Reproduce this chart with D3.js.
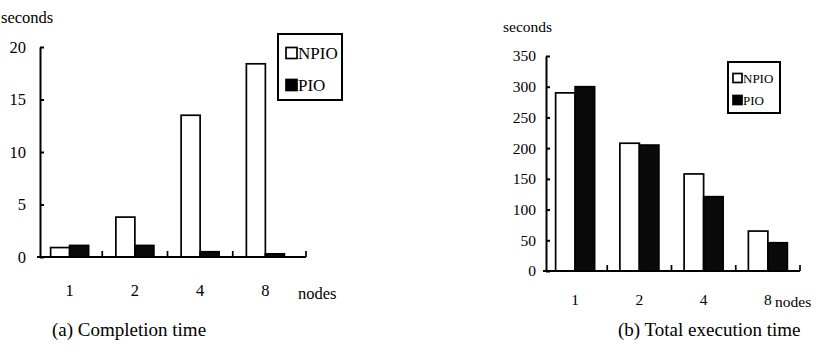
<!DOCTYPE html>
<html>
<head>
<meta charset="utf-8">
<script src="https://cdn.jsdelivr.net/npm/d3@7/dist/d3.min.js"></script>
<style>
  html, body { margin: 0; padding: 0; background: #fff; }
  svg { display: block; }
</style>
</head>
<body>
<svg id="chart" width="827" height="354" style="font-family: 'Times New Roman', 'Liberation Serif', 'DejaVu Serif', serif;"></svg>
<script>
// ---------- data ----------
const categories = ["1", "2", "4", "8"];
const seriesNames = ["NPIO", "PIO"];

const completionNPIO = [0.9, 3.8, 13.5, 18.4];
const completionPIO  = [1.1, 1.1, 0.5, 0.3];
const completionTicks = [0, 5, 10, 15, 20];

const totalNPIO = [290, 208, 158, 65];
const totalPIO  = [300, 205, 121, 46];
const totalTicks = [0, 50, 100, 150, 200, 250, 300, 350];

const yLabel = "seconds";
const xLabel = "nodes";
const captionA = "(a)  Completion time";
const captionB = "(b) Total execution time";

// ---------- drawing ----------
const FONT = "'Times New Roman', 'Liberation Serif', 'DejaVu Serif', serif";
const svg = d3.select("#chart");

function txt(sel, size) {
  return sel.attr("font-family", FONT).style("font-family", FONT)
    .style("font-size", size + "px").attr("fill", "#000");
}

function drawChart(opt) {
  const g = svg.append("g");
  const y = d3.scaleLinear()
    .domain([0, d3.max(opt.ticks)])
    .range([opt.y0, opt.yTop]);
  const x = d3.scaleBand().domain(categories).range([opt.xStart, opt.xEnd]);
  const x1 = d3.scaleBand().domain(seriesNames).range([0, opt.pairW]);
  const off = (x.step() - opt.pairW) / 2;

  const rows = categories.map((c, i) => ({ c, vals: [opt.npio[i], opt.pio[i]] }));

  // bars
  rows.forEach(r => {
    seriesNames.forEach((s, j) => {
      g.append("rect")
        .attr("x", x(r.c) + off + x1(s))
        .attr("y", y(r.vals[j]))
        .attr("width", x1.bandwidth())
        .attr("height", y(0) - y(r.vals[j]))
        .attr("fill", j === 0 ? "#fff" : "#0a0a0a")
        .attr("stroke", "#000")
        .attr("stroke-width", 1.7);
    });
  });

  // y axis
  const ay = g.append("g")
    .attr("transform", `translate(${opt.axisX},0)`)
    .call(d3.axisLeft(y).tickValues(opt.ticks).tickSize(-4).tickSizeOuter(0).tickPadding(opt.labelPad));
  ay.attr("font-family", FONT);
  ay.select(".domain").attr("stroke", "#000").attr("stroke-width", 2);
  ay.selectAll(".tick line").attr("stroke", "#000").attr("stroke-width", 2);
  txt(ay.selectAll(".tick text"), opt.tickFont);

  // baseline with upward separator ticks
  g.append("line")
    .attr("x1", opt.axisX - 3).attr("x2", opt.baseEnd)
    .attr("y1", y(0)).attr("y2", y(0))
    .attr("stroke", "#000").attr("stroke-width", 2);
  const seps = categories.slice(1).map(c => x(c)).concat([opt.baseEnd]);
  g.selectAll(".sep").data(seps).enter().append("line")
    .attr("x1", d => d).attr("x2", d => d)
    .attr("y1", y(0)).attr("y2", y(0) - 6)
    .attr("stroke", "#000").attr("stroke-width", 1.7);

  // x labels
  txt(g.selectAll(".xl").data(categories).enter().append("text")
    .attr("x", d => x(d) + x.step() / 2)
    .attr("y", opt.xLabY)
    .attr("text-anchor", "middle")
    .text(d => d), opt.tickFont);
  txt(g.append("text")
    .attr("x", opt.nodesX).attr("y", opt.nodesY)
    .text(xLabel), opt.tickFont);

  // y label
  txt(g.append("text")
    .attr("x", opt.secX).attr("y", opt.secY)
    .text(yLabel), opt.tickFont);

  // legend
  const L = opt.legend;
  g.append("rect")
    .attr("x", L.x).attr("y", L.y).attr("width", L.w).attr("height", L.h)
    .attr("fill", "#fff").attr("stroke", "#000").attr("stroke-width", 2);
  seriesNames.forEach((s, j) => {
    const yy = L.y + L.item0 + j * L.gap;
    g.append("rect")
      .attr("x", L.x + L.pad).attr("y", yy - L.sq / 2)
      .attr("width", L.sq).attr("height", L.sq)
      .attr("fill", j === 0 ? "#fff" : "#000")
      .attr("stroke", "#000").attr("stroke-width", 1.7);
    txt(g.append("text")
      .attr("x", L.x + L.pad + L.sq + 1).attr("y", yy)
      .attr("dy", "0.35em")
      .text(s), L.font);
  });

  // caption
  txt(g.append("text")
    .attr("x", opt.capX).attr("y", opt.capY)
    .text(opt.caption), 19);
}

drawChart({
  npio: completionNPIO, pio: completionPIO, ticks: completionTicks,
  y0: 257, yTop: 47, axisX: 40, xStart: 37, xEnd: 298, pairW: 38, baseEnd: 306,
  labelPad: 14, tickFont: 16.5,
  xLabY: 296, nodesX: 298, nodesY: 299, secX: 1, secY: 23,
  legend: { x: 278, y: 34, w: 64, h: 66, pad: 8, sq: 11, item0: 19, gap: 32, font: 17 },
  caption: captionA, capX: 52, capY: 336
});

drawChart({
  npio: totalNPIO, pio: totalPIO, ticks: totalTicks,
  y0: 271, yTop: 56, axisX: 546, xStart: 543, xEnd: 800, pairW: 39, baseEnd: 800,
  labelPad: 10, tickFont: 15.5,
  xLabY: 305, nodesX: 775, nodesY: 307, secX: 503, secY: 32,
  legend: { x: 728, y: 62, w: 52, h: 51, pad: 5, sq: 9, item0: 16, gap: 22, font: 13 },
  caption: captionB, capX: 618, capY: 336
});
</script>
</body>
</html>
